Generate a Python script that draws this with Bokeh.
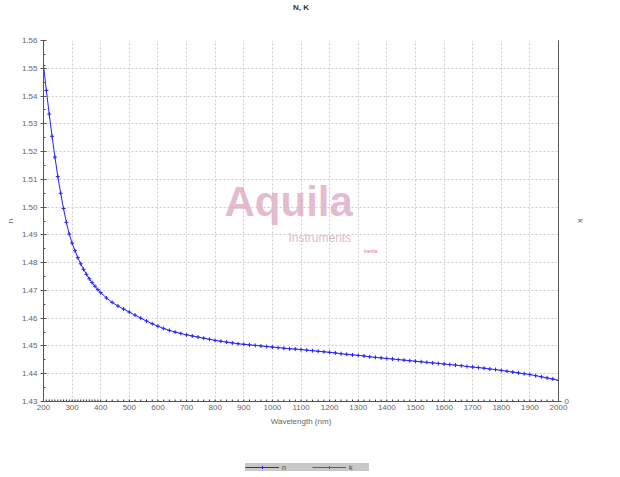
from bokeh.plotting import figure
from bokeh.layouts import column
from bokeh.models import (Range1d, LinearAxis, FixedTicker, Legend, LegendItem,
                          Label, ColumnDataSource, NumeralTickFormatter, Title)
from bokeh.embed import file_html
from bokeh.resources import INLINE

# ---- data ----
wavelength = [200, 210, 220, 230, 240, 250, 260, 270, 280, 290, 300, 310, 320, 330,
              340, 350, 360, 370, 380, 390, 400, 420, 440, 460, 480, 500, 520, 540,
              560, 580, 600, 620, 640, 660, 680, 700, 720, 740, 760, 780, 800, 820,
              840, 860, 880, 900, 920, 940, 960, 980, 1000, 1020, 1040, 1060, 1080,
              1100, 1120, 1140, 1160, 1180, 1200, 1220, 1240, 1260, 1280, 1300, 1320,
              1340, 1360, 1380, 1400, 1420, 1440, 1460, 1480, 1500, 1520, 1540, 1560,
              1580, 1600, 1620, 1640, 1660, 1680, 1700, 1720, 1740, 1760, 1780, 1800,
              1820, 1840, 1860, 1880, 1900, 1920, 1940, 1960, 1980, 2000]
n_values = [1.5510, 1.5420, 1.5335, 1.5255, 1.5180, 1.5110, 1.5050, 1.4995, 1.4945,
            1.4903, 1.4870, 1.4843, 1.4818, 1.4796, 1.4776, 1.4758, 1.4742, 1.4728,
            1.4715, 1.4703, 1.4692, 1.4673, 1.4657, 1.4644, 1.4633, 1.4622, 1.4611,
            1.4600, 1.4590, 1.4580, 1.4571, 1.4563, 1.4556, 1.4550, 1.4545, 1.4540,
            1.4536, 1.4532, 1.4528, 1.4524, 1.4520, 1.4517, 1.4514, 1.4511, 1.4508,
            1.4506, 1.4504, 1.4502, 1.4500, 1.4498, 1.4496, 1.4494, 1.4492, 1.4490,
            1.4489, 1.4487, 1.4485, 1.4483, 1.4481, 1.4479, 1.4477, 1.4475, 1.4472,
            1.4470, 1.4468, 1.4466, 1.4464, 1.4461, 1.4459, 1.4457, 1.4455, 1.4453,
            1.4451, 1.4449, 1.4447, 1.4445, 1.4443, 1.4441, 1.4439, 1.4437, 1.4435,
            1.4433, 1.4431, 1.4429, 1.4426, 1.4424, 1.4422, 1.4420, 1.4417, 1.4415,
            1.4412, 1.4409, 1.4406, 1.4403, 1.4400, 1.4397, 1.4393, 1.4389, 1.4385,
            1.4381, 1.4376]
k_values = [0.0, 0.0, 0.0, 0.0, 0.0, 0.0, 0.0, 0.0, 0.0, 0.0, 0.0, 0.0, 0.0, 0.0, 0.0,
            0.0, 0.0, 0.0, 0.0, 0.0, 0.0, 0.0, 0.0, 0.0, 0.0, 0.0, 0.0, 0.0, 0.0, 0.0,
            0.0, 0.0, 0.0, 0.0, 0.0, 0.0, 0.0, 0.0, 0.0, 0.0, 0.0, 0.0, 0.0, 0.0, 0.0,
            0.0, 0.0, 0.0, 0.0, 0.0, 0.0, 0.0, 0.0, 0.0, 0.0, 0.0, 0.0, 0.0, 0.0, 0.0,
            0.0, 0.0, 0.0, 0.0, 0.0, 0.0, 0.0, 0.0, 0.0, 0.0, 0.0, 0.0, 0.0, 0.0, 0.0,
            0.0, 0.0, 0.0, 0.0, 0.0, 0.0, 0.0, 0.0, 0.0, 0.0, 0.0, 0.0, 0.0, 0.0, 0.0,
            0.0, 0.0, 0.0, 0.0, 0.0, 0.0, 0.0, 0.0, 0.0, 0.0, 0.0]
x_ticks = [200, 300, 400, 500, 600, 700, 800, 900, 1000, 1100, 1200, 1300, 1400,
           1500, 1600, 1700, 1800, 1900, 2000]
y_ticks = [1.43, 1.44, 1.45, 1.46, 1.47, 1.48, 1.49, 1.50, 1.51, 1.52, 1.53, 1.54,
           1.55, 1.56]
y_minor = [1.435, 1.445, 1.455, 1.465, 1.475, 1.485, 1.495, 1.505, 1.515, 1.525,
           1.535, 1.545, 1.555]

FONT = "Liberation Sans"
GREY = "#666666"
BLUE = "#2222ff"
DARK = "#333333"

src = ColumnDataSource(dict(wl=wavelength, n=n_values, k=k_values))

p = figure(output_backend="svg", toolbar_location=None,
           x_range=Range1d(200, 2000), y_range=Range1d(1.43, 1.56),
           frame_width=515, frame_height=361,
           min_border_left=43, min_border_right=54, min_border_top=40,
           min_border_bottom=30)
p.outline_line_color = None
p.background_fill_color = "white"
p.title = None

# title, pushed up by an empty spacer title
p.add_layout(Title(text=" ", text_font=FONT, text_font_size="16px"), "above")
p.add_layout(Title(text="N, K", align="center", text_font=FONT,
                   text_font_size="8px", text_font_style="bold",
                   text_color=DARK, standoff=0), "above")

p.extra_y_ranges = {"k": Range1d(0, 1)}

# axes
xa = p.xaxis[0]
xa.ticker = FixedTicker(ticks=x_ticks)
xa.axis_label = "Wavelength (nm)"
ya = p.yaxis[0]
ya.ticker = FixedTicker(ticks=y_ticks, minor_ticks=y_minor)
ya.formatter = NumeralTickFormatter(format="0.00")
ya.axis_label = "n"

ra = LinearAxis(y_range_name="k", ticker=FixedTicker(ticks=[0]), axis_label="k")
p.add_layout(ra, "right")

for ax in [xa, ya, ra]:
    ax.major_label_text_font = FONT
    ax.major_label_text_font_size = "8px"
    ax.major_label_text_color = GREY
    ax.axis_label_text_font = FONT
    ax.axis_label_text_font_size = "8px"
    ax.axis_label_text_font_style = "normal"
    ax.axis_label_text_color = GREY
    ax.axis_line_color = "#555555"
    ax.major_tick_line_color = "#555555"
    ax.minor_tick_line_color = "#555555"
    ax.major_tick_in = 3
    ax.major_tick_out = 3
    ax.minor_tick_in = 2
    ax.minor_tick_out = 0
    ax.major_label_standoff = 3
    ax.axis_label_standoff = 4
xa.major_tick_in = 0
xa.major_tick_out = 0
xa.minor_tick_line_color = None

p.xgrid.grid_line_color = "#cccccc"
p.ygrid.grid_line_color = "#cccccc"
p.xgrid.grid_line_dash = "2 2"
p.ygrid.grid_line_dash = "2 2"

# watermark
p.add_layout(Label(x=181, y=177, x_units="screen", y_units="screen", text="Aquila",
                   text_font=FONT, text_font_size="42px", text_font_style="bold",
                   text_color="#dfb0c8", text_alpha=0.85))
p.add_layout(Label(x=245, y=157, x_units="screen", y_units="screen",
                   text="Instruments", text_font=FONT, text_font_size="12px",
                   text_color="#e3b8cf"))
p.add_layout(Label(x=320, y=148, x_units="screen", y_units="screen",
                   text="Inertia", text_font=FONT, text_font_size="5px",
                   text_color="#e07090"))

# series
p.line("wl", "n", source=src, line_color=BLUE, line_width=1)
p.scatter("wl", "n", source=src, marker="cross", size=4, line_color=BLUE)
p.line("wl", "k", source=src, y_range_name="k", line_color=DARK, line_width=1)
p.scatter("wl", "k", source=src, y_range_name="k", marker="cross", size=4,
          line_color=DARK)

# legend strip below the chart (its renderers sit outside the visible range)
leg = figure(output_backend="svg", toolbar_location=None, width=612, height=40,
             x_axis_type=None, y_axis_type=None, min_border=0,
             x_range=Range1d(0, 1), y_range=Range1d(0, 1))
leg.outline_line_color = None
leg.grid.visible = False
hidden = ColumnDataSource(dict(x=[-5, -4], y=[-5, -4]))
ln = leg.line("x", "y", source=hidden, line_color=BLUE, line_width=1)
sn = leg.scatter("x", "y", source=hidden, marker="cross", size=4, line_color=BLUE)
lk = leg.line("x", "y", source=hidden, line_color="#5555aa", line_width=1)
sk = leg.scatter("x", "y", source=hidden, marker="cross", size=4, line_color="#5555aa")

legend = Legend(items=[LegendItem(label="n", renderers=[ln, sn]),
                       LegendItem(label="k", renderers=[lk, sk])],
                orientation="horizontal", location=(202, 0),
                background_fill_color="#c8c8c8", background_fill_alpha=1,
                border_line_color=None, label_text_font=FONT,
                label_text_font_size="7px", glyph_width=34, glyph_height=8,
                label_height=8, label_standoff=3, spacing=10, padding=1,
                margin=0, label_text_color="#444444")
leg.add_layout(legend, "center")

open("out.html", "w").write(file_html(column(p, leg, spacing=0), INLINE))
